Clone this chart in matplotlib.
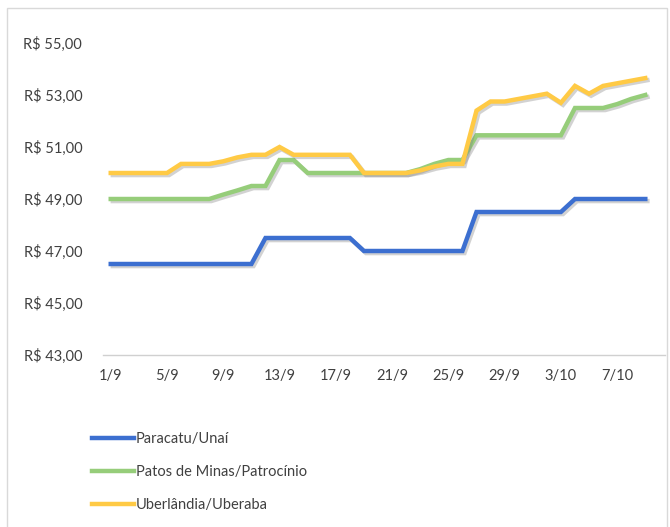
import matplotlib
matplotlib.use("Agg")
import matplotlib.pyplot as plt
import matplotlib.patheffects as pe
from matplotlib.patches import Rectangle

plt.rcParams['font.family'] = ['Lato', 'DejaVu Sans']

dates = ["1/9", "2/9", "3/9", "4/9", "5/9", "6/9", "7/9", "8/9", "9/9", "10/9",
         "11/9", "12/9", "13/9", "14/9", "15/9", "16/9", "17/9", "18/9", "19/9", "20/9",
         "21/9", "22/9", "23/9", "24/9", "25/9", "26/9", "27/9", "28/9", "29/9", "30/9",
         "1/10", "2/10", "3/10", "4/10", "5/10", "6/10", "7/10", "8/10", "9/10"]

paracatu = [46.5] * 11 + [47.5] * 7 + [47.0] * 8 + [48.5] * 7 + [49.0] * 6

patos = ([49.0] * 8 + [49.17, 49.33, 49.5, 49.5, 50.5, 50.5] + [50.0] * 8 +
         [50.15, 50.35, 50.5, 50.5] + [51.45] * 7 + [52.5] * 3 + [52.65, 52.85, 53.0])

uberlandia = ([50.0] * 5 + [50.35] * 3 + [50.45, 50.6, 50.7, 50.7, 51.0] + [50.7] * 5 +
              [50.0] * 4 + [50.1, 50.25, 50.35, 50.35, 52.4, 52.75, 52.75, 52.85, 52.95,
                            53.05, 52.7, 53.35, 53.05, 53.35, 53.45, 53.55, 53.65])

series_names = ["Paracatu/Unaí", "Patos de Minas/Patrocínio", "Uberlândia/Uberaba"]
colors = ["#3C6FD0", "#96CD7A", "#FFCA45"]
yticks = [43, 45, 47, 49, 51, 53, 55]

W, H = 670, 527
fig = plt.figure(figsize=(W / 100, H / 100), dpi=100)
ax = fig.add_axes([103 / W, 1 - 355 / H, (665 - 103) / W, (355 - 43) / H])

x = list(range(len(dates)))
shadow = [pe.SimpleLineShadow(offset=(1.5, -1.5), shadow_color='gray', alpha=0.35), pe.Normal()]
handles = []
for vals, name, c in zip([paracatu, patos, uberlandia], series_names, colors):
    h, = ax.plot(x, vals, color=c, lw=3.2, solid_joinstyle='miter', label=name,
                 path_effects=shadow)
    handles.append(h)

ax.set_xlim(-0.55, 39.4)
ax.set_ylim(43, 55)
ax.set_yticks(yticks)
ax.set_yticklabels([f"R$ {v:d},00" for v in yticks])
ax.set_xticks(x[::4])
ax.set_xticklabels(dates[::4])
for s in ['top', 'right', 'left']:
    ax.spines[s].set_visible(False)
ax.spines['bottom'].set_color('#D0D0D0')
ax.spines['bottom'].set_linewidth(1.0)
ax.tick_params(axis='both', length=0, labelsize=10.5, colors='#404040')
ax.tick_params(axis='y', pad=15)
ax.tick_params(axis='x', pad=10)

leg = fig.legend(handles=[plt.Line2D([], [], color=c, lw=3.2) for c in colors],
                 labels=series_names, loc='upper left',
                 bbox_to_anchor=(79 / W, 1 - 419 / H), frameon=False,
                 handlelength=2.9, handletextpad=0.1, labelspacing=1.3,
                 fontsize=10.5)
for t in leg.get_texts():
    t.set_color('#404040')

fig.patches.append(Rectangle((7 / W, -0.05), (667 - 7) / W, 1.05 - 8 / H,
                             transform=fig.transFigure, fill=False,
                             edgecolor='#D9D9D9', lw=1.0))

fig.savefig("out.png", dpi=100)
